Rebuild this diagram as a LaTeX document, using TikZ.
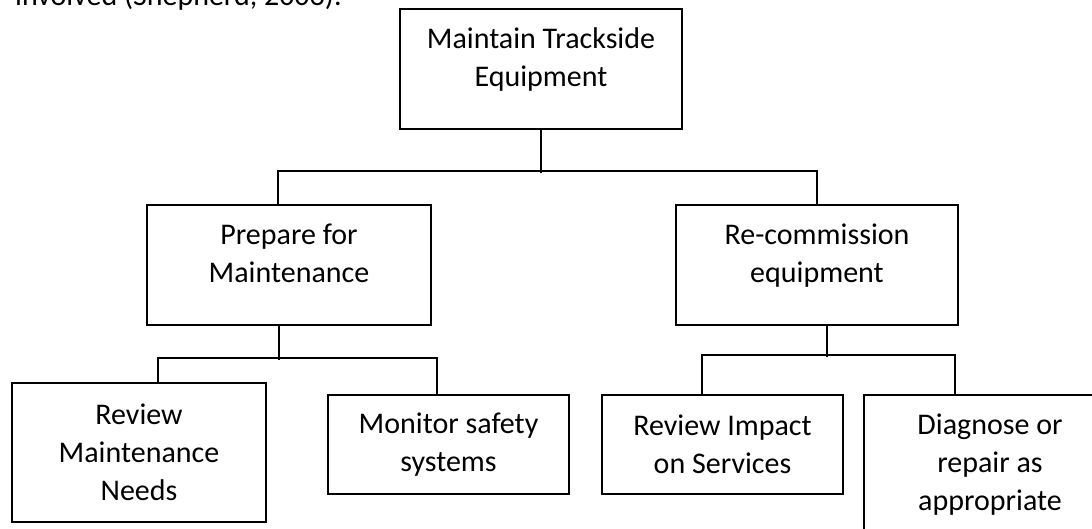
\documentclass[tikz,border=0pt]{standalone}
\usepackage{fontspec}
\setmainfont{Carlito}
\usepackage{tikz}
\usetikzlibrary{positioning, calc}

\tikzset{
  taskbox/.style={
    draw, line width=1.5pt, align=center, inner sep=0pt,
    font=\fontsize{30}{38}\selectfont
  },
  taskboxhigh/.style={taskbox, text depth=24pt},
  link/.style={line width=1.5pt},
}

\begin{document}
\begin{tikzpicture}[x=1pt, y=1pt]
  \useasboundingbox (0,0) rectangle (1092,529);
  \clip (0,0) rectangle (1092,529);

  % end of the running text above the chart
  \node[font=\fontsize{30}{38}\selectfont, anchor=base west, inner sep=0pt]
    (bodytext) at (15,523) {involved (Shepherd, 2003).};

  % --- top level ---
  \node[taskboxhigh, minimum width=282pt, minimum height=120pt]
    (top) at (541,460) {Maintain Trackside\\Equipment};

  % --- second level ---
  \node[taskboxhigh, minimum width=284pt, minimum height=120pt]
    (prep) at (289,264) {Prepare for\\Maintenance};
  \node[taskboxhigh, minimum width=282pt, minimum height=120pt]
    (recomm) at (817,264) {Re-commission\\equipment};

  % --- third level ---
  \node[taskbox, minimum width=254pt, minimum height=139pt]
    (revmaint) at (139,76.5) {Review\\Maintenance\\Needs};
  \node[taskbox, minimum width=241pt, minimum height=99pt]
    (monitor) at (448.5,84.5) {Monitor safety\\systems};
  \node[taskbox, minimum width=241pt, minimum height=99pt]
    (impact) at (722.5,84.5) {Review Impact\\on Services};
  \node[taskbox, minimum width=252pt, minimum height=139pt]
    (diagnose) at (990,64.5) {Diagnose or\\repair as\\appropriate};

  % connectors, top to second level
  \draw[link] (top.south) -- ++(0,-43);
  \draw[link] ([xshift=-11pt]prep.north) -- ++(0,33) -| (recomm.north);

  % connectors, second to third level
  \draw[link] ([xshift=-10pt]prep.south) -- ++(0,-34);
  \draw[link] ([xshift=19pt]revmaint.north) -- ++(0,24)
    -| ([xshift=-11.5pt]monitor.north);
  \draw[link] ([xshift=10pt]recomm.south) -- ++(0,-31);
  \draw[link] ([xshift=-20.5pt]impact.north) -- ++(0,39)
    -| ([xshift=-35pt]diagnose.north);
\end{tikzpicture}
\end{document}
